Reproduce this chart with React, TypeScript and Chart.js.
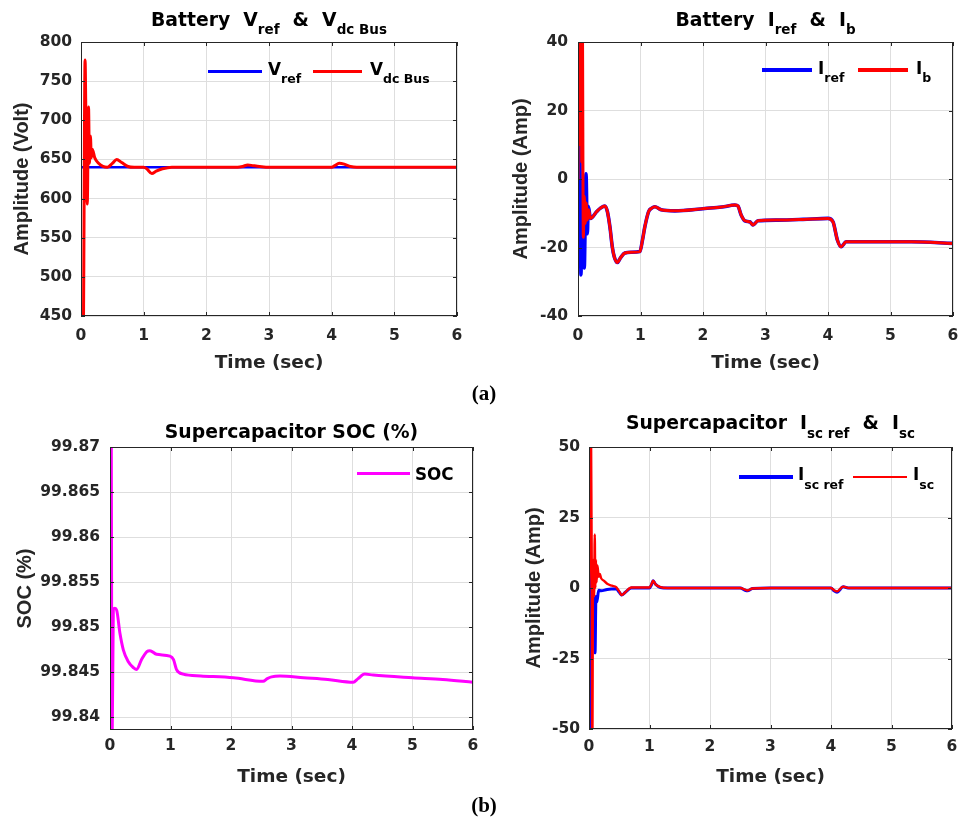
import React, { useEffect, useRef } from 'react';
import { Chart, registerables } from 'chart.js';

Chart.register(...registerables);

const HFONT = "'DejaVu Sans', 'Liberation Sans', Arial, sans-serif";
const VFONT = "'Liberation Sans', Arial, Helvetica, sans-serif";
const SERIF = "'Liberation Serif', 'Times New Roman', serif";
const AXIS_COLOR = '#262626';
const GRID_COLOR = '#dedede';
const BLUE = '#0000ff';
const RED = '#ff0000';
const MAGENTA = '#ff00ff';

// ---------------- data ----------------
const X_TICKS = [0, 1, 2, 3, 4, 5, 6];

// (a) left: battery voltage
const VOLT_TICKS = [450, 500, 550, 600, 650, 700, 750, 800];
const T_VREF = [0, 6];
const VREF = [640, 640];
const T_VDC = [0, 0.04, 0.065, 0.08, 0.1, 0.12, 0.135, 0.15, 0.165, 0.18, 0.22, 0.28, 0.35, 0.42, 0.5, 0.57, 0.65, 0.75, 0.85, 1.0, 1.05, 1.13, 1.2, 1.3, 1.45, 2.5, 2.58, 2.66, 2.75, 2.85, 3.0, 4.0, 4.05, 4.12, 4.2, 4.3, 4.4, 6.0];
const VDC = [200, 450, 777, 690, 593, 717, 645, 680, 652, 663, 652, 645, 641, 640, 645, 650, 646, 641, 640, 640, 638, 632, 635, 638, 640, 640, 641, 643, 642, 641, 640, 640, 642, 645, 644, 641, 640, 640];

// (a) right: battery current
const AMP_TICKS = [-40, -20, 0, 20, 40];
const T_IREF = [0, 0.01, 0.02, 0.032, 0.048, 0.06, 0.075, 0.088, 0.1, 0.115, 0.128, 0.149, 0.165, 0.2, 0.3, 0.36, 0.43, 0.47, 0.51, 0.55, 0.58, 0.63, 0.68, 0.75, 0.85, 0.99, 1.03, 1.07, 1.13, 1.18, 1.23, 1.33, 1.55, 2.03, 2.3, 2.51, 2.56, 2.61, 2.67, 2.75, 2.8, 2.88, 3.2, 3.6, 4.0, 4.08, 4.15, 4.21, 4.29, 4.8, 5.33, 6.0];
const IREF = [0, 50, 20, 6, -28, -5, -20, -10, -26, -12, 1.5, -16, -8, -11.5, -9.5, -8.5, -7.9, -9.5, -13.9, -20, -22.7, -24.4, -23, -21.6, -21.4, -21.2, -18, -13.9, -9.5, -8.5, -8.1, -9.0, -9.3, -8.6, -8.2, -7.6, -7.9, -10.5, -12.2, -12.5, -13.4, -12.2, -12, -11.8, -11.5, -12.5, -17.8, -19.8, -18.3, -18.3, -18.3, -18.8];
const T_IB = [0, 0.01, 0.02, 0.03, 0.04, 0.05, 0.06, 0.07, 0.085, 0.1, 0.115, 0.13, 0.15, 0.17, 0.2, 0.3, 0.36, 0.43, 0.47, 0.51, 0.55, 0.58, 0.63, 0.68, 0.75, 0.85, 0.99, 1.03, 1.07, 1.13, 1.18, 1.23, 1.33, 1.55, 2.03, 2.3, 2.51, 2.56, 2.61, 2.67, 2.75, 2.8, 2.88, 3.2, 3.6, 4.0, 4.08, 4.15, 4.21, 4.29, 4.8, 5.33, 6.0];
const IB = [0, 60, 10, 55, 15, 50, 5, 45, -17, -5, -13, -7, -12, -9, -11.5, -9.5, -8.5, -7.9, -9.5, -13.9, -20, -22.7, -24.4, -23, -21.6, -21.4, -21.2, -18, -13.9, -9.5, -8.5, -8.1, -9.0, -9.3, -8.6, -8.2, -7.6, -7.9, -10.5, -12.2, -12.5, -13.4, -12.2, -12, -11.8, -11.5, -12.5, -17.8, -19.8, -18.3, -18.3, -18.3, -18.8];

// (b) left: supercapacitor SOC
const SOC_TICKS = [99.84, 99.845, 99.85, 99.855, 99.86, 99.865, 99.87];
const T_SOC = [0, 0.018, 0.034, 0.055, 0.08, 0.11, 0.165, 0.22, 0.3, 0.39, 0.44, 0.52, 0.61, 0.66, 0.77, 0.99, 1.05, 1.1, 1.21, 1.5, 2.04, 2.53, 2.6, 2.67, 2.81, 3.2, 3.6, 4.02, 4.1, 4.21, 4.35, 5.0, 5.5, 6.0];
const SOC = [99.875, 99.875, 99.836, 99.852, 99.8521, 99.8519, 99.8493, 99.8475, 99.8462, 99.8455, 99.8453, 99.8464, 99.8473, 99.8474, 99.847, 99.8468, 99.8464, 99.8453, 99.8448, 99.8446, 99.8444, 99.844, 99.8443, 99.8445, 99.8446, 99.8444, 99.8442, 99.8439, 99.8443, 99.8448, 99.8447, 99.8444, 99.8442, 99.8439];

// (b) right: supercapacitor current
const ISC_TICKS = [-50, -25, 0, 25, 50];
const T_ISCREF = [0, 0.01, 0.02, 0.03, 0.045, 0.06, 0.075, 0.09, 0.1, 0.115, 0.13, 0.16, 0.2, 0.3, 0.45, 0.5, 0.54, 0.6, 0.7, 1.0, 1.03, 1.06, 1.1, 1.18, 1.3, 2.5, 2.58, 2.62, 2.7, 3.0, 4.0, 4.05, 4.1, 4.2, 4.3, 6.0];
const ISCREF = [0, 60, -60, 5, -10, 0, -12, -5, -23, -3, -5, -0.8, -1, -0.5, -0.3, -1.5, -2.5, -1.5, 0, 0, 1, 2.6, 1.3, 0.2, 0, 0, -0.8, -1, -0.2, 0, 0, -1, -1.5, 0.4, 0, 0];
const T_ISC = [0, 0.015, 0.03, 0.045, 0.055, 0.065, 0.075, 0.085, 0.095, 0.105, 0.115, 0.125, 0.14, 0.16, 0.18, 0.2, 0.25, 0.3, 0.38, 0.45, 0.5, 0.54, 0.6, 0.7, 1.0, 1.03, 1.06, 1.1, 1.18, 1.3, 2.5, 2.58, 2.62, 2.7, 3.0, 4.0, 4.05, 4.1, 4.2, 4.3, 6.0];
const ISC = [0, 20, 70, 10, -70, 5, 10, -3, 19, 0, 10, 2, 8, 4, 5, 3.5, 2.5, 1.5, 0.8, 0.3, -1.2, -2.5, -1.5, 0.2, 0.2, 1.2, 2.6, 1.3, 0.3, 0, 0, -0.6, -0.9, -0.2, 0, 0, -0.8, -1.2, 0.5, 0, 0];

// ---------------- helpers ----------------
const pts = (t: number[], v: number[]) => t.map((x, i) => ({ x, y: v[i] }));
const fmt = (v: any) => String(+Number(v).toFixed(3));

const framePlugin = {
  id: 'frame',
  afterDraw(chart: any) {
    const { ctx, chartArea: a, scales } = chart;
    ctx.save();
    ctx.strokeStyle = AXIS_COLOR;
    ctx.lineWidth = 1;
    ctx.strokeRect(Math.round(a.left) + 0.5, Math.round(a.top) + 0.5, Math.round(a.right - a.left) - 1, Math.round(a.bottom - a.top) - 1);
    const L = 4;
    ctx.beginPath();
    for (const t of scales.x.ticks) {
      const px = Math.round(scales.x.getPixelForValue(t.value)) + 0.5;
      ctx.moveTo(px, a.bottom); ctx.lineTo(px, a.bottom - L);
      ctx.moveTo(px, a.top); ctx.lineTo(px, a.top + L);
    }
    for (const t of scales.y.ticks) {
      const py = Math.round(scales.y.getPixelForValue(t.value)) + 0.5;
      ctx.moveTo(a.left, py); ctx.lineTo(a.left + L, py);
      ctx.moveTo(a.right, py); ctx.lineTo(a.right - L, py);
    }
    ctx.stroke();
    ctx.restore();
  },
};

type PanelSpec = {
  left: number; top: number; width: number; height: number;
  padTop: number; padRight: number; yW: number; xH: number;
  yTickPad: number; yTitlePad: number; xTickPad: number; xTitlePad: number;
  yTitle: string; yMin: number; yMax: number; yTicks: number[];
  datasets: any[];
};

function buildConfig(p: PanelSpec): any {
  const tickFont = { family: HFONT, size: 15.5, weight: 'bold' as const };
  return {
    type: 'line',
    data: { datasets: p.datasets },
    options: {
      responsive: false,
      animation: false,
      devicePixelRatio: 1,
      layout: { padding: { left: 0, top: p.padTop, right: p.padRight, bottom: 0 } },
      plugins: { legend: { display: false }, tooltip: { enabled: false }, title: { display: false } },
      elements: { point: { radius: 0 }, line: { cubicInterpolationMode: 'monotone', borderCapStyle: 'round', borderJoinStyle: 'round' } },
      scales: {
        x: {
          type: 'linear', min: 0, max: 6,
          afterBuildTicks: (s: any) => { s.ticks = X_TICKS.map((v) => ({ value: v })); },
          afterFit: (s: any) => { s.height = p.xH; s.paddingLeft = 0; s.paddingRight = 0; },
          ticks: { font: tickFont, color: AXIS_COLOR, padding: p.xTickPad, maxRotation: 0, autoSkip: false, callback: fmt },
          grid: { color: GRID_COLOR, drawTicks: false },
          border: { display: false },
          title: { display: true, text: 'Time (sec)', color: AXIS_COLOR, font: { family: HFONT, size: 18.5, weight: 'bold' }, padding: { top: 0, bottom: p.xTitlePad } },
        },
        y: {
          type: 'linear', min: p.yMin, max: p.yMax,
          afterBuildTicks: (s: any) => { s.ticks = p.yTicks.map((v) => ({ value: v })); },
          afterFit: (s: any) => { s.width = p.yW; s.paddingTop = 0; s.paddingBottom = 0; },
          ticks: { font: tickFont, color: AXIS_COLOR, padding: p.yTickPad, autoSkip: false, callback: fmt },
          grid: { color: GRID_COLOR, drawTicks: false },
          border: { display: false },
          title: { display: true, text: p.yTitle, color: AXIS_COLOR, font: { family: VFONT, size: 20, weight: 'bold' }, padding: { top: p.yTitlePad, bottom: 0 } },
        },
      },
    },
    plugins: [framePlugin],
  };
}

const line = (label: string, t: number[], v: number[], color: string, width: number, order: number) => ({
  label, data: pts(t, v), borderColor: color, backgroundColor: color, borderWidth: width, order, fill: false,
});

const PANELS: PanelSpec[] = [
  {
    left: 0, top: 30, width: 475, height: 355, padTop: 12, padRight: 18, yW: 81, xH: 69,
    yTickPad: 9, yTitlePad: 10, xTickPad: 10.8, xTitlePad: 10.9,
    yTitle: 'Amplitude (Volt)', yMin: 450, yMax: 800, yTicks: VOLT_TICKS,
    datasets: [line('Vref', T_VREF, VREF, BLUE, 2.5, 2), line('Vdc Bus', T_VDC, VDC, RED, 3, 1)],
  },
  {
    left: 490, top: 30, width: 471, height: 355, padTop: 12, padRight: 8, yW: 88, xH: 69,
    yTickPad: 10, yTitlePad: 19.7, xTickPad: 10.8, xTitlePad: 10.9,
    yTitle: 'Amplitude (Amp)', yMin: -40, yMax: 40, yTicks: AMP_TICKS,
    datasets: [line('Iref', T_IREF, IREF, BLUE, 3.6, 2), line('Ib', T_IB, IB, RED, 3, 1)],
  },
  {
    left: 0, top: 430, width: 485, height: 370, padTop: 17, padRight: 12, yW: 110, xH: 70,
    yTickPad: 10, yTitlePad: 13, xTickPad: 6.8, xTitlePad: 11.9,
    yTitle: 'SOC (%)', yMin: 99.8386, yMax: 99.87, yTicks: SOC_TICKS,
    datasets: [line('SOC', T_SOC, SOC, MAGENTA, 3, 1)],
  },
  {
    left: 490, top: 430, width: 471, height: 370, padTop: 17, padRight: 9, yW: 99, xH: 71,
    yTickPad: 9, yTitlePad: 32, xTickPad: 8.8, xTitlePad: 11.9,
    yTitle: 'Amplitude (Amp)', yMin: -50, yMax: 50, yTicks: ISC_TICKS,
    datasets: [line('Isc ref', T_ISCREF, ISCREF, BLUE, 3, 2), line('Isc', T_ISC, ISC, RED, 2.4, 1)],
  },
];

function ChartPanel({ spec }: { spec: PanelSpec }) {
  const ref = useRef<HTMLCanvasElement>(null);
  useEffect(() => {
    const chart = new Chart(ref.current as HTMLCanvasElement, buildConfig(spec));
    return () => chart.destroy();
  }, [spec]);
  return (
    <canvas ref={ref} width={spec.width} height={spec.height}
      style={{ position: 'absolute', left: spec.left, top: spec.top, width: spec.width, height: spec.height }} />
  );
}

type Part = [string, boolean];
const TITLE_FS = 18.8;

function Title({ cx, baseline, parts, subShift }: { cx: number; baseline: number; parts: Part[]; subShift: number }) {
  return (
    <div style={{
      position: 'absolute', left: cx, top: baseline - 0.846 * TITLE_FS, transform: 'translateX(-50%)',
      whiteSpace: 'pre', fontFamily: HFONT, fontWeight: 'bold', fontSize: TITLE_FS, lineHeight: `${TITLE_FS}px`, color: '#000',
    }}>
      {parts.map(([t, sub], i) => sub
        ? <span key={i} style={{ fontSize: 13.5, position: 'relative', top: subShift }}>{t}</span>
        : <span key={i}>{t}</span>)}
    </div>
  );
}

type LegendItem = { x1: number; x2: number; y: number; color: string; lw: number; tx: number; main: string; sub: string };
const LEG_FS = 16.8;

function Legend({ items, baseline, subShift }: { items: LegendItem[]; baseline: number; subShift: number }) {
  return (
    <>
      {items.map((it, i) => (
        <React.Fragment key={i}>
          <div style={{ position: 'absolute', left: it.x1, top: it.y - it.lw / 2, width: it.x2 - it.x1, height: it.lw, background: it.color }} />
          <div style={{
            position: 'absolute', left: it.tx, top: baseline - 0.846 * LEG_FS, whiteSpace: 'pre',
            fontFamily: HFONT, fontWeight: 'bold', fontSize: LEG_FS, lineHeight: `${LEG_FS}px`, color: '#000',
          }}>
            {it.main}
            {it.sub ? <span style={{ fontSize: 12.5, position: 'relative', top: subShift }}>{it.sub}</span> : null}
          </div>
        </React.Fragment>
      ))}
    </>
  );
}

export default function App() {
  return (
    <div style={{ position: 'absolute', left: 0, top: 0, width: 961, height: 818, background: '#fff', overflow: 'hidden' }}>
      {PANELS.map((p, i) => <ChartPanel key={i} spec={p} />)}

      <Title cx={269} baseline={26.5} subShift={8.3}
        parts={[['Battery  ', false], ['V', false], ['ref', true], ['  &  ', false], ['V', false], ['dc Bus', true]]} />
      <Title cx={765.5} baseline={26.5} subShift={8.3}
        parts={[['Battery  ', false], ['I', false], ['ref', true], ['  &  ', false], ['I', false], ['b', true]]} />
      <Title cx={291.5} baseline={438.5} subShift={8.3}
        parts={[['Supercapacitor SOC (%)', false]]} />
      <Title cx={770.5} baseline={430} subShift={9.3}
        parts={[['Supercapacitor  ', false], ['I', false], ['sc ref', true], ['  &  ', false], ['I', false], ['sc', true]]} />

      <Legend baseline={75} subShift={8} items={[
        { x1: 208, x2: 262, y: 71, color: BLUE, lw: 3, tx: 268, main: 'V', sub: 'ref' },
        { x1: 313, x2: 362, y: 71, color: RED, lw: 3, tx: 370, main: 'V', sub: 'dc Bus' },
      ]} />
      <Legend baseline={74} subShift={8} items={[
        { x1: 762, x2: 812, y: 70, color: BLUE, lw: 4, tx: 818, main: 'I', sub: 'ref' },
        { x1: 858, x2: 908, y: 70, color: RED, lw: 3.5, tx: 916, main: 'I', sub: 'b' },
      ]} />
      <Legend baseline={480} subShift={0} items={[
        { x1: 357, x2: 410, y: 473, color: MAGENTA, lw: 3, tx: 415, main: 'SOC', sub: '' },
      ]} />
      <Legend baseline={480} subShift={9} items={[
        { x1: 739, x2: 793, y: 477, color: BLUE, lw: 3.5, tx: 798, main: 'I', sub: 'sc ref' },
        { x1: 853, x2: 907, y: 477, color: RED, lw: 2, tx: 913, main: 'I', sub: 'sc' },
      ]} />

      <div style={{ position: 'absolute', left: 484, top: 383, transform: 'translateX(-50%)', fontFamily: SERIF, fontWeight: 'bold', fontSize: 21, lineHeight: '21px', color: '#000' }}>(a)</div>
      <div style={{ position: 'absolute', left: 484, top: 795, transform: 'translateX(-50%)', fontFamily: SERIF, fontWeight: 'bold', fontSize: 21, lineHeight: '21px', color: '#000' }}>(b)</div>
    </div>
  );
}
